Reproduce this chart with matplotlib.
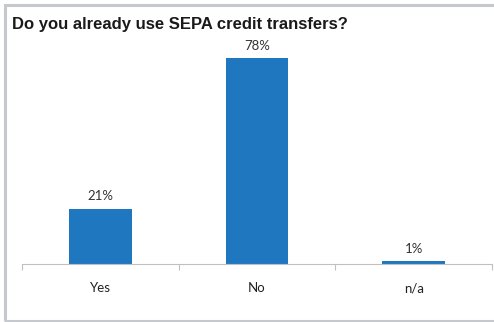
import matplotlib
matplotlib.use("Agg")
import matplotlib.pyplot as plt
from matplotlib.patches import Rectangle

categories = ["Yes", "No", "n/a"]
values = [21, 78, 1]
labels = ["21%", "78%", "1%"]
title = "Do you already use SEPA credit transfers?"

W, H = 494, 322
fig = plt.figure(figsize=(W / 100, H / 100), dpi=100)
fig.patch.set_facecolor("white")

# outer frame (open on the right)
fig.patches.append(Rectangle((4.5 / W, 1.5 / H), 1.5, (H - 6) / H, transform=fig.transFigure,
                             fill=False, edgecolor="#c5c9ce", linewidth=2.2))

ax = fig.add_axes([22 / W, (H - 264) / H, (492 - 22) / W, (264 - 40) / H])
x = list(range(len(categories)))
ax.bar(x, values, width=0.4, color="#1f77c0", zorder=2)
ax.set_xlim(-0.5, 2.5)
ax.set_ylim(0, 84.8)
for xi, v, l in zip(x, values, labels):
    ax.annotate(l, (xi, v), xytext=(0, 4.5), textcoords="offset points", ha="center", va="bottom",
                fontsize=9.5, family="Lato", color="#333333")
ax.set_yticks([])
for s in ["top", "right", "left"]:
    ax.spines[s].set_visible(False)
ax.spines["bottom"].set_color("#c0c0c0")
ax.spines["bottom"].set_linewidth(0.8)
ax.set_xticks(x)
ax.set_xticklabels(categories, fontsize=9.5, family="Lato", color="#222222")
ax.tick_params(axis="x", which="major", length=0, pad=13)
ax.set_xticks([-0.5, 0.5, 1.5, 2.5], minor=True)
ax.tick_params(axis="x", which="minor", length=4, color="#c0c0c0", width=0.8)

fig.text(12 / W, 1 - 25 / H, title, fontsize=12, fontweight="bold", family="Liberation Sans",
         color="#1a1a1a", ha="left", va="center")

fig.savefig("out.png", dpi=100)
